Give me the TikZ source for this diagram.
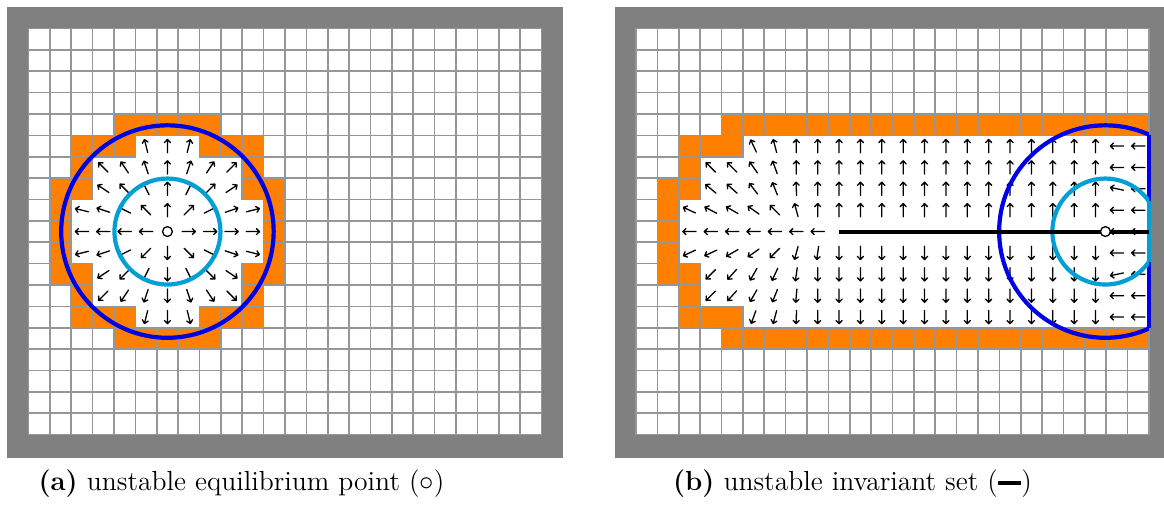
\documentclass[tikz,border=0pt]{standalone}
\definecolor{framec}{RGB}{128,128,128}
\definecolor{gridc}{RGB}{150,150,150}
\definecolor{orng}{RGB}{255,128,0}
\definecolor{dblue}{RGB}{0,0,230}
\definecolor{cyn}{RGB}{0,160,215}
\newcommand\arrowcell[3]{%
  \draw[arrowline] ({#1+0.5+0.311*cos(#3)},{#2+0.5-0.311*sin(#3)}) coordinate (t)
    -- ++({-0.622*cos(#3)},{0.622*sin(#3)})
    (t) -- ++({-0.15*cos(#3)+0.14*sin(#3)},{0.15*sin(#3)+0.14*cos(#3)})
    (t) -- ++({-0.15*cos(#3)-0.14*sin(#3)},{0.15*sin(#3)-0.14*cos(#3)});}
\begin{document}
\begin{tikzpicture}[x=0.5pt,y=-0.5pt,
  gridline/.style={draw=gridc,line width=0.8pt},
  orangecell/.style={fill=orng,draw=gridc,line width=0.8pt},
  arrowline/.style={draw=black,line width=0.65pt,line cap=round},
  bigring/.style={draw=dblue,line width=2.1pt},
  smallring/.style={draw=cyn,line width=2.1pt},
  eqpt/.style={draw=black,fill=white,line width=0.65pt},
  invset/.style={draw=black,line width=2pt},
  caption/.style={font=\fontsize{13.8}{16}\selectfont,anchor=base,inner sep=0pt}]
\clip (0,0) rectangle (1164,506);
% ---------------- panel (a) ----------------
\begin{scope}[shift={(28.5,28.5)},x=10.6875pt,y=-10.6875pt]
  \fill[framec] (-1,-1) rectangle (25,20.1);
  \fill[white] (0,0) rectangle (24,19);
  \foreach \i in {0,...,24} {\draw[gridline] (\i,0) -- (\i,19);}
  \foreach \j in {0,...,19} {\draw[gridline] (0,\j) -- (24,\j);}
  \foreach \r/\a/\b in {5/5/7,6/3/9,7/3/9,8/2/10,9/2/10,10/2/10,11/3/9,12/3/9,13/5/7}
    {\fill[white] (\a,\r) rectangle ({\b+1},{\r+1});}
  \foreach \r/\a/\b in {4/4/8,5/2/4,5/8/10,6/2/2,6/10/10,7/1/2,7/10/11,8/1/1,8/11/11,9/1/1,9/11/11,10/1/1,10/11/11,11/1/2,11/10/11,12/2/2,12/10/10,13/2/4,13/8/10,14/4/8}
    {\foreach \c in {\a,...,\b} {\draw[orangecell] (\c,\r) rectangle ({\c+1},{\r+1});}}
  \foreach \r/\a/\b in {5/5/7,6/3/9,7/3/9,8/2/10,9/2/10,10/2/10,11/3/9,12/3/9,13/5/7}{
    \foreach \c in {\a,...,\b}{
      \pgfmathtruncatemacro\iscen{and(\c==6,\r==9)}
      \ifnum\iscen=0
        \pgfmathsetmacro\ang{atan2(9-\r,\c-6)}
        \arrowcell{\c}{\r}{\ang}
      \fi
    }
  }
  \draw[bigring] (6.5,9.5) circle[radius=4.97];
  \draw[smallring] (6.5,9.5) circle[radius=2.48];
  \draw[eqpt] (6.5,9.5) circle[radius=0.23];
\end{scope}
% ---------------- panel (b) ----------------
\begin{scope}[shift={(636,28.5)},x=10.6875pt,y=-10.6875pt]
  \fill[framec] (-1,-1) rectangle (25,20.1);
  \fill[white] (0,0) rectangle (24,19);
  \foreach \i in {0,...,24} {\draw[gridline] (\i,0) -- (\i,19);}
  \foreach \j in {0,...,19} {\draw[gridline] (0,\j) -- (24,\j);}
  \foreach \r/\a in {5/5,6/3,7/3,8/2,9/2,10/2,11/3,12/3,13/5}
    {\fill[white] (\a,\r) rectangle (24,{\r+1});}
  \foreach \r/\a/\b in {4/4/23,5/2/4,6/2/2,7/1/2,8/1/1,9/1/1,10/1/1,11/1/2,12/2/2,13/2/4,14/4/23}
    {\foreach \c in {\a,...,\b} {\draw[orangecell] (\c,\r) rectangle ({\c+1},{\r+1});}}
  % left end of the field
  \foreach \r/\s/\angs in {5/5/{115,105,90,90},6/3/{135,135,125,110,90,90},7/3/{140,138,128,112,92,90},8/2/{155,152,150,145,135,105,90},9/2/{180,180,180,180,180,180,180},10/2/{205,205,210,215,225,255,262},11/3/{225,228,240,245,262,270},12/3/{225,228,240,248,265,270},13/5/{250,255,268,270}}{
    \foreach \ang [count=\k from 0] in \angs {
      \pgfmathtruncatemacro\cc{\s+\k}
      \arrowcell{\cc}{\r}{\ang}
    }
  }
  % middle part
  \foreach \r in {5,6,7,8} {\foreach \c in {9,...,21} {\arrowcell{\c}{\r}{90}}}
  \foreach \r in {10,11,12,13} {\foreach \c in {9,...,21} {\arrowcell{\c}{\r}{270}}}
  % right end
  \foreach \r/\ang in {5/180,6/180,7/168,8/180,9/180,10/180,11/192,12/180,13/180} {\arrowcell{22}{\r}{\ang}}
  \foreach \r in {5,...,13} {\arrowcell{23}{\r}{180}}
  \begin{scope}
    \clip (10,0) rectangle (24,19);
    \draw[bigring] (21.96,9.5) circle[radius=4.97];
  \end{scope}
  \draw[bigring] (24,4.968) -- (24,14.032);
  \begin{scope}
    \clip (15,0) rectangle (24,19);
    \draw[smallring] (21.96,9.5) circle[radius=2.48];
  \end{scope}
  \draw[smallring] (24,8.09) -- (24,10.91);
  \draw[invset] (9.5,9.5) -- (24,9.5);
  \draw[eqpt] (21.96,9.5) circle[radius=0.23];
\end{scope}
% ---------------- captions ----------------
\node[caption] (capa) at (241.5,491) {\textbf{(a)} unstable equilibrium point ($\circ$)};
\node[caption] (capb) at (852.5,491) {\textbf{(b)} unstable invariant set (\rule[0.2em]{0.85em}{0.17em})};
\end{tikzpicture}
\end{document}
